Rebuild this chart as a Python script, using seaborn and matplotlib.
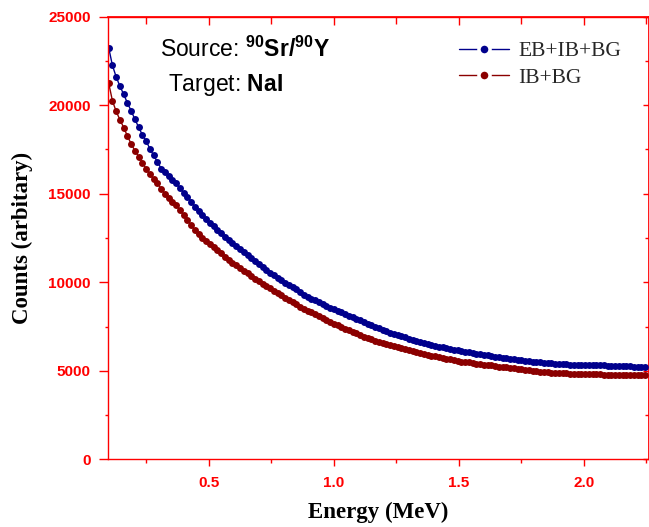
import matplotlib
matplotlib.use("Agg")
import matplotlib.pyplot as plt
from matplotlib.lines import Line2D
from matplotlib.ticker import MultipleLocator
import seaborn as sns
import pandas as pd

# ---------------- data ----------------
energy = [
    0.100, 0.115, 0.130, 0.145, 0.160, 0.175, 0.190, 0.205, 0.220, 0.235,
    0.250, 0.265, 0.280, 0.295, 0.310, 0.325, 0.340, 0.355, 0.370, 0.385,
    0.400, 0.415, 0.430, 0.445, 0.460, 0.475, 0.490, 0.505, 0.520, 0.535,
    0.550, 0.565, 0.580, 0.595, 0.610, 0.625, 0.640, 0.655, 0.670, 0.685,
    0.700, 0.715, 0.730, 0.745, 0.760, 0.775, 0.790, 0.805, 0.820, 0.835,
    0.850, 0.865, 0.880, 0.895, 0.910, 0.925, 0.940, 0.955, 0.970, 0.985,
    1.000, 1.015, 1.030, 1.045, 1.060, 1.075, 1.090, 1.105, 1.120, 1.135,
    1.150, 1.165, 1.180, 1.195, 1.210, 1.225, 1.240, 1.255, 1.270, 1.285,
    1.300, 1.315, 1.330, 1.345, 1.360, 1.375, 1.390, 1.405, 1.420, 1.435,
    1.450, 1.465, 1.480, 1.495, 1.510, 1.525, 1.540, 1.555, 1.570, 1.585,
    1.600, 1.615, 1.630, 1.645, 1.660, 1.675, 1.690, 1.705, 1.720, 1.735,
    1.750, 1.765, 1.780, 1.795, 1.810, 1.825, 1.840, 1.855, 1.870, 1.885,
    1.900, 1.915, 1.930, 1.945, 1.960, 1.975, 1.990, 2.005, 2.020, 2.035,
    2.050, 2.065, 2.080, 2.095, 2.110, 2.125, 2.140, 2.155, 2.170, 2.185,
    2.200, 2.215, 2.230, 2.245,
]

eb_ib_bg = [
    23250, 22250, 21600, 21070, 20620, 20120, 19680, 19200, 18750, 18310,
    17980, 17530, 17160, 16800, 16420, 16200, 16000, 15790, 15580, 15300,
    15060, 14830, 14550, 14270, 14010, 13790, 13580, 13360, 13150, 12960,
    12760, 12570, 12380, 12210, 12040, 11870, 11700, 11530, 11360, 11190,
    11020, 10850, 10700, 10550, 10400, 10250, 10110, 9980, 9850, 9730,
    9600, 9440, 9290, 9180, 9080, 8980, 8860, 8750, 8660, 8570,
    8480, 8390, 8300, 8210, 8120, 8030, 7940, 7850, 7760, 7670,
    7580, 7490, 7400, 7310, 7230, 7160, 7090, 7020, 6950, 6880,
    6810, 6740, 6670, 6600, 6550, 6500, 6460, 6420, 6370, 6330,
    6290, 6240, 6200, 6150, 6120, 6080, 6050, 6010, 5970, 5940,
    5900, 5870, 5830, 5800, 5760, 5730, 5700, 5670, 5640, 5620,
    5590, 5560, 5530, 5510, 5480, 5470, 5450, 5440, 5420, 5400,
    5390, 5370, 5360, 5350, 5350, 5340, 5340, 5330, 5330, 5320,
    5310, 5300, 5300, 5290, 5290, 5280, 5270, 5260, 5260, 5250,
    5240, 5240, 5230, 5220,
]

ib_bg = [
    21250, 20250, 19650, 19180, 18740, 18260, 17810, 17430, 17100, 16760,
    16400, 16090, 15830, 15580, 15290, 15000, 14770, 14560, 14350, 14060,
    13780, 13500, 13220, 12930, 12700, 12500, 12330, 12170, 12010, 11830,
    11640, 11450, 11260, 11110, 10960, 10810, 10660, 10500, 10350, 10200,
    10050, 9910, 9780, 9650, 9520, 9390, 9260, 9130, 9010, 8880,
    8760, 8620, 8490, 8400, 8300, 8200, 8090, 7970, 7850, 7760,
    7640, 7560, 7470, 7380, 7290, 7200, 7110, 7020, 6920, 6840,
    6770, 6700, 6630, 6560, 6500, 6450, 6390, 6340, 6290, 6230,
    6170, 6110, 6050, 5990, 5940, 5900, 5850, 5810, 5760, 5720,
    5680, 5640, 5600, 5560, 5520, 5500, 5470, 5440, 5410, 5380,
    5350, 5320, 5300, 5270, 5240, 5220, 5190, 5170, 5140, 5120,
    5090, 5060, 5030, 5000, 4970, 4950, 4930, 4910, 4890, 4880,
    4870, 4860, 4850, 4840, 4830, 4820, 4810, 4800, 4800, 4790,
    4790, 4790, 4780, 4780, 4780, 4780, 4780, 4770, 4770, 4770,
    4770, 4770, 4770, 4770,
]

series_names = ["EB+IB+BG", "IB+BG"]
series_colors = ["#00008C", "#8B0000"]

x_ticks = [0.5, 1.0, 1.5, 2.0]
x_tick_labels = ["0.5", "1.0", "1.5", "2.0"]
y_ticks = [0, 5000, 10000, 15000, 20000, 25000]
y_tick_labels = ["0", "5000", "10000", "15000", "20000", "25000"]

# ---------------- figure ----------------
sns.set_theme(style="white")
plt.rcParams["font.family"] = ["Liberation Sans", "DejaVu Sans"]
plt.rcParams["mathtext.fontset"] = "custom"
plt.rcParams["mathtext.rm"] = "Liberation Sans"
plt.rcParams["mathtext.bf"] = "Liberation Sans:bold"

W, H = 649, 527
fig = plt.figure(figsize=(W / 100, H / 100), dpi=100)
fig.patch.set_facecolor("white")
ax_left, ax_right, ax_top, ax_bottom = 108.3, 648.5, 16.7, 459.3
ax = fig.add_axes([ax_left / W, 1 - ax_bottom / H,
                   (ax_right - ax_left) / W, (ax_bottom - ax_top) / H])
ax.set_facecolor("white")

df = pd.concat([
    pd.DataFrame({"Energy": energy, "Counts": eb_ib_bg, "Series": series_names[0]}),
    pd.DataFrame({"Energy": energy, "Counts": ib_bg, "Series": series_names[1]}),
])
palette = dict(zip(series_names, series_colors))
sns.lineplot(data=df, x="Energy", y="Counts", hue="Series", palette=palette,
             estimator=None, sort=False, marker="o", markersize=5.0,
             markeredgewidth=0, linewidth=1.0, legend=False, ax=ax)

ax.set_xlim(0.0985, 2.258)
ax.set_ylim(0, 25000)

red = "#FF0000"
for s in ax.spines.values():
    s.set_color(red)
    s.set_linewidth(1.0)
    s.set_visible(True)

ax.set_xticks(x_ticks, labels=x_tick_labels, fontweight="bold",
              family="Liberation Sans", fontsize=11, color=red)
ax.set_yticks(y_ticks, labels=y_tick_labels, fontweight="bold",
              family="Liberation Sans", fontsize=11, color=red)
ax.xaxis.set_minor_locator(MultipleLocator(0.25))
ax.yaxis.set_minor_locator(MultipleLocator(2500))
ax.tick_params(axis="x", which="major", direction="out", length=5, width=1,
               color=red, pad=7, bottom=True)
ax.tick_params(axis="x", which="minor", direction="out", length=3, width=1,
               color=red, bottom=True)
ax.tick_params(axis="y", which="major", direction="out", length=6.5, width=1,
               color=red, pad=6, left=True)
ax.tick_params(axis="y", which="minor", direction="out", length=2.3, width=1,
               color=red, left=True)

# top & right ticks pointing inward
top = ax.secondary_xaxis("top")
top.xaxis.set_major_locator(MultipleLocator(0.5))
top.xaxis.set_minor_locator(MultipleLocator(0.25))
top.tick_params(which="major", direction="in", length=6, width=1, color=red, labeltop=False)
top.tick_params(which="minor", direction="in", length=5, width=1, color=red)
top.spines["top"].set_color(red)
right = ax.secondary_yaxis("right")
right.yaxis.set_major_locator(MultipleLocator(5000))
right.yaxis.set_minor_locator(MultipleLocator(2500))
right.tick_params(which="major", direction="in", length=4, width=1, color=red, labelright=False)
right.tick_params(which="minor", direction="in", length=3, width=1, color=red)
right.spines["right"].set_color(red)

ax.set_xlabel("Energy (MeV)", family="Liberation Serif", fontweight="bold",
              fontsize=16.5, color="black")
ax.set_ylabel("Counts (arbitary)", family="Liberation Serif", fontweight="bold",
              fontsize=16.5, color="black")
ax.xaxis.set_label_coords(0.5, -(502 - ax_bottom) / (ax_bottom - ax_top))
ax.yaxis.set_label_coords((33 - ax_left) / (ax_right - ax_left), 0.5)

# annotation text
fig.text(160 / W, 1 - 57.3 / H, r"Source: $\mathbf{^{90}Sr/^{90}Y}$",
         fontsize=16.5, family="Liberation Sans", color="black", va="baseline", ha="left")
fig.text(168 / W, 1 - 90.5 / H, r"Target: $\mathbf{NaI}$",
         fontsize=16.5, family="Liberation Sans", color="black", va="baseline", ha="left")

# legend
handles = [Line2D([], [], color=c, lw=1.0, marker="o", markersize=8,
                  markerfacecolor=c, markeredgecolor="white", markeredgewidth=2.5)
           for c in series_colors]
ax.legend(handles, series_names, loc="upper left",
          bbox_to_anchor=(459 / W, 1 - 41 / H), bbox_transform=fig.transFigure,
          frameon=False, borderpad=0, borderaxespad=0, handlelength=2.3,
          handletextpad=0.45, labelspacing=0.32,
          prop={"family": "Liberation Serif", "size": 15.5})

fig.savefig("out.png", dpi=100, facecolor="white")
